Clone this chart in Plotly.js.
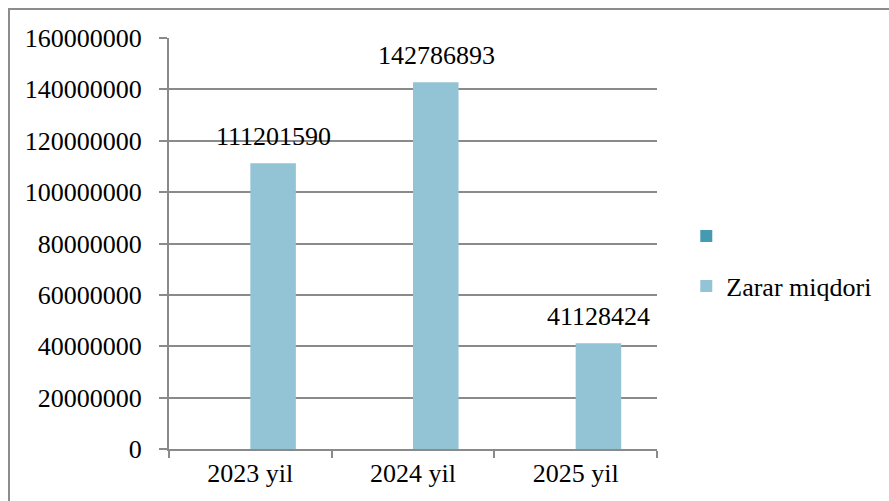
<!DOCTYPE html>
<html>
<head>
<meta charset="utf-8">
<script src="https://cdn.plot.ly/plotly-3.0.1.min.js"></script>
<style>
html,body{margin:0;padding:0;overflow:hidden;background:#fff;}
#frame{position:absolute;left:8px;top:8px;width:1000px;height:600px;border-left:2px solid #8c8c8c;border-top:2px solid #8c8c8c;box-sizing:border-box;}
#chart{position:absolute;left:0;top:0;width:889px;height:501px;}
#chart text{font-family:"Liberation Serif","Times New Roman",serif !important;}
</style>
</head>
<body>
<div id="frame"></div>
<div id="chart"></div>
<script>
const categories = ["2023 yil", "2024 yil", "2025 yil"];
const emptySeries = [null, null, null];
const zararMiqdori = [111201590, 142786893, 41128424];
const seriesNames = [" ", "Zarar miqdori"];
const yTicks = [0, 20000000, 40000000, 60000000, 80000000, 100000000, 120000000, 140000000, 160000000];

const serifFamily = "Liberation Serif";

const traces = [
  {type: "bar", x: categories, y: emptySeries, name: seriesNames[0], legendgroup: "a",
   marker: {color: "#4599B1"}, hoverinfo: "skip"},
  {type: "bar", x: categories, y: zararMiqdori, name: seriesNames[1], legendgroup: "b",
   marker: {color: "#93C4D5"}}
];

const annotations = categories.map((c, i) => ({
  x: c, y: zararMiqdori[i], xref: "x", yref: "y",
  text: String(zararMiqdori[i]), showarrow: false,
  xanchor: "center", yanchor: "bottom", xshift: 23, yshift: 10,
  font: {family: serifFamily, size: 26, color: "#000000"}
}));

const layout = {
  width: 889, height: 501,
  margin: {l: 169, r: 228, t: 38, b: 52},
  paper_bgcolor: "rgba(0,0,0,0)", plot_bgcolor: "rgba(0,0,0,0)",
  barmode: "group", bargap: 0.44, bargroupgap: 0,
  font: {family: serifFamily, size: 26, color: "#000000"},
  showlegend: true,
  legend: {x: 1.06, xanchor: "left", y: 0.575, yanchor: "top",
           traceorder: "grouped", tracegroupgap: 13,
           font: {family: serifFamily, size: 26, color: "#000000"},
           bgcolor: "rgba(0,0,0,0)"},
  xaxis: {type: "category", showline: true, linecolor: "#8a8a8a", linewidth: 2,
          ticks: "outside", tickson: "boundaries", ticklen: 7, tickcolor: "#8a8a8a", tickwidth: 2,
          showgrid: false, zeroline: false, fixedrange: true,
          tickfont: {family: serifFamily, size: 26, color: "#000000"}},
  yaxis: {range: [0, 160000000], tickvals: yTicks, ticktext: yTicks.map(v => String(v)),
          showline: true, linecolor: "#8a8a8a", linewidth: 2,
          ticks: "outside", ticklen: 8, tickcolor: "#8a8a8a", tickwidth: 2,
          showgrid: true, gridcolor: "#8a8a8a", gridwidth: 1.5, zeroline: false,
          ticklabelstandoff: 12, fixedrange: true,
          tickfont: {family: serifFamily, size: 26, color: "#000000"}},
  annotations: annotations
};

Plotly.newPlot("chart", traces, layout, {displayModeBar: false});
</script>
</body>
</html>
